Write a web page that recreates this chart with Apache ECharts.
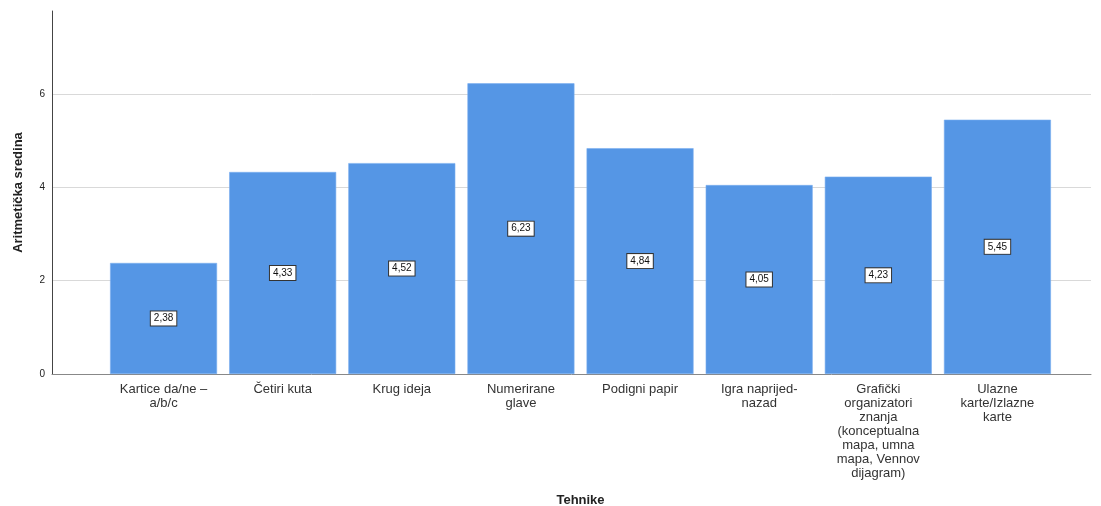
<!DOCTYPE html>
<html>
<head>
<meta charset="utf-8">
<script src="https://cdn.jsdelivr.net/npm/echarts@6/dist/echarts.min.js"></script>
<style>html,body{margin:0;padding:0;background:#fff}#c{width:1101px;height:506px}</style>
</head>
<body>
<div id="c"></div>
<script>
var categories = [
  "Kartice da/ne –\na/b/c",
  "Četiri kuta",
  "Krug ideja",
  "Numerirane\nglave",
  "Podigni papir",
  "Igra naprijed-\nnazad",
  "Grafički\norganizatori\nznanja\n(konceptualna\nmapa, umna\nmapa, Vennov\ndijagram)",
  "Ulazne\nkarte/Izlazne\nkarte"
];
var values = [2.38, 4.33, 4.52, 6.23, 4.84, 4.05, 4.23, 5.45];
var yTicks = [0, 2, 4, 6];
var xTitle = "Tehnike";
var yTitle = "Aritmetička sredina";

var yMax = 7.78;
var chart = echarts.init(document.getElementById('c'), null, {renderer: 'canvas'});
var font = 'Liberation Sans, Arial, sans-serif';
chart.setOption({
  animation: false,
  grid: [
    {left: 52, right: 10, top: 11, bottom: 132, outerBoundsMode: 'none', containLabel: false},
    {left: 104, right: 44, top: 11, bottom: 132, outerBoundsMode: 'none', containLabel: false}
  ],
  xAxis: [
    {gridIndex: 0, type: 'category', data: [''], axisLine: {show: true, lineStyle: {color: '#888', width: 1}},
     axisTick: {show: false}, axisLabel: {show: false}},
    {gridIndex: 1, type: 'category', data: categories, axisLine: {show: false}, axisTick: {show: false},
     axisLabel: {interval: 0, color: '#333', fontFamily: font, fontSize: 13, lineHeight: 14, margin: 8, align: 'center'},
     name: xTitle, nameLocation: 'middle', nameGap: 120,
     nameTextStyle: {fontFamily: font, fontWeight: 'bold', fontSize: 13, color: '#222'}}
  ],
  yAxis: [
    {gridIndex: 0, type: 'value', min: 0, max: yMax, interval: 2,
     axisLine: {show: true, lineStyle: {color: '#444', width: 1}}, axisTick: {show: false},
     splitLine: {show: true, showMaxLine: false, showMinLine: false, lineStyle: {color: '#d9d9d9', width: 1}},
     axisLabel: {color: '#222', fontFamily: font, fontSize: 10, margin: 7,
       formatter: function (v) { return yTicks.indexOf(v) >= 0 ? String(v) : ''; }},
     name: yTitle, nameLocation: 'middle', nameGap: 27,
     nameTextStyle: {fontFamily: font, fontWeight: 'bold', fontSize: 13, color: '#222'}},
    {gridIndex: 1, type: 'value', min: 0, max: yMax, interval: 2, show: false, splitLine: {show: false}}
  ],
  series: [{
    type: 'bar', xAxisIndex: 1, yAxisIndex: 1, data: values, barWidth: 107,
    itemStyle: {color: '#5596e5', borderColor: '#7aaef0', borderWidth: 0.6},
    label: {show: true, position: 'inside', fontFamily: font, fontSize: 10, color: '#111',
      backgroundColor: '#fff', borderColor: '#333', borderWidth: 1, padding: [2, 3, 2, 3],
      formatter: function (p) { return p.value.toFixed(2).replace('.', ','); }}
  }]
});
</script>
</body>
</html>
